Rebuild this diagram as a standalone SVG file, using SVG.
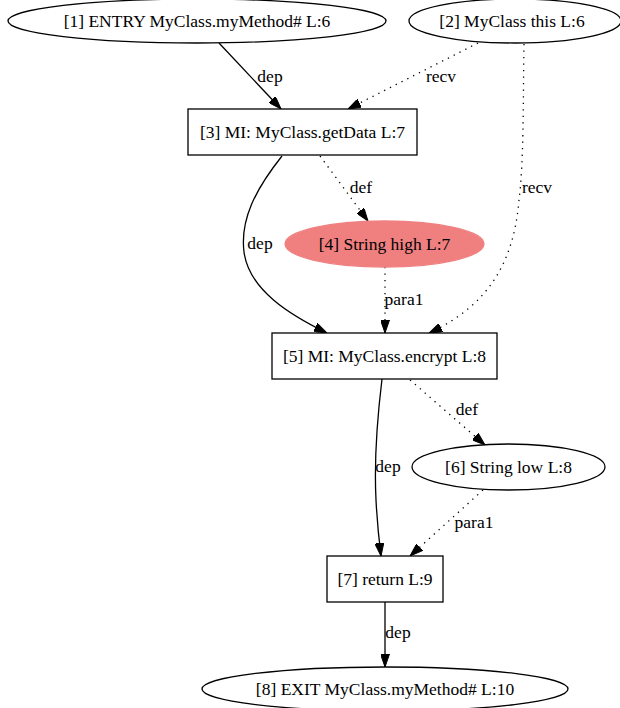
<svg xmlns="http://www.w3.org/2000/svg" width="620" height="708" viewBox="0 0 620 708">
<style>
  .n { fill: #ffffff; stroke: #000000; stroke-width: 1.3; }
  .t { font-family: "Liberation Serif", "Times New Roman", serif; font-size: 17.5px; fill: #000000; text-anchor: middle; }
  .l { font-family: "Liberation Serif", "Times New Roman", serif; font-size: 17.5px; fill: #000000; text-anchor: middle; }
  .e { fill: none; stroke: #000000; stroke-width: 1.3; marker-end: url(#arr); }
  .d { stroke-dasharray: 1.3 5.2; }
</style>
<defs>
  <marker id="arr" viewBox="0 0 13 9" refX="13" refY="4.5" markerWidth="13" markerHeight="9" markerUnits="userSpaceOnUse" orient="auto">
    <path d="M0,0 L13,4.5 L0,9 z" fill="#000000" stroke="#000000" stroke-width="1"/>
  </marker>
</defs>
<rect x="0" y="0" width="620" height="708" fill="#ffffff"/>

<g id="edges">
  <path class="e" d="M219,43 L281,109"/>
  <text class="l" x="270" y="82">dep</text>
  <path class="e d" d="M478,43 L348,109"/>
  <text class="l" x="441" y="82">recv</text>
  <path class="e d" d="M524,44 C523,100 524,160 519,200 C514,260 490,305 429,333"/>
  <text class="l" x="537" y="193">recv</text>
  <path class="e d" d="M320,156 L368,221"/>
  <text class="l" x="361" y="193">def</text>
  <path class="e" d="M282,156 C255,190 240,220 244,252 C249,290 290,315 327,333"/>
  <text class="l" x="260" y="249">dep</text>
  <path class="e d" d="M385,267 L385,333"/>
  <text class="l" x="404" y="305">para1</text>
  <path class="e d" d="M410,380 L485,445"/>
  <text class="l" x="467" y="415">def</text>
  <path class="e" d="M382,379 C377,420 374,460 376,500 C377,520 379,540 381,556"/>
  <text class="l" x="388" y="472">dep</text>
  <path class="e d" d="M483,490 L410,556"/>
  <text class="l" x="474" y="528">para1</text>
  <path class="e" d="M385,602 L385,667"/>
  <text class="l" x="398" y="638">dep</text>
</g>

<g id="node1">
  <ellipse class="n" cx="197" cy="21" rx="189" ry="22"/>
  <text class="t" x="197" y="27">[1] ENTRY MyClass.myMethod# L:6</text>
</g>
<g id="node2">
  <ellipse class="n" cx="515" cy="21" rx="106" ry="22"/>
  <text class="t" x="512" y="27">[2] MyClass this L:6</text>
</g>
<g id="node3">
  <rect class="n" x="188" y="109" width="229" height="46"/>
  <text class="t" x="302.5" y="138">[3] MI: MyClass.getData L:7</text>
</g>
<g id="node4">
  <ellipse cx="384.5" cy="244" rx="99.5" ry="23" fill="#f08080" stroke="#f08080" stroke-width="1.3"/>
  <text class="t" x="384.5" y="250">[4] String high L:7</text>
</g>
<g id="node5">
  <rect class="n" x="272" y="333" width="225" height="46"/>
  <text class="t" x="384.5" y="362">[5] MI: MyClass.encrypt L:8</text>
</g>
<g id="node6">
  <ellipse class="n" cx="508.5" cy="467" rx="96.5" ry="23"/>
  <text class="t" x="508.5" y="473">[6] String low L:8</text>
</g>
<g id="node7">
  <rect class="n" x="327" y="556" width="116" height="46"/>
  <text class="t" x="385" y="585">[7] return L:9</text>
</g>
<g id="node8">
  <ellipse class="n" cx="385" cy="689" rx="183" ry="22"/>
  <text class="t" x="385" y="695">[8] EXIT MyClass.myMethod# L:10</text>
</g>
</svg>
